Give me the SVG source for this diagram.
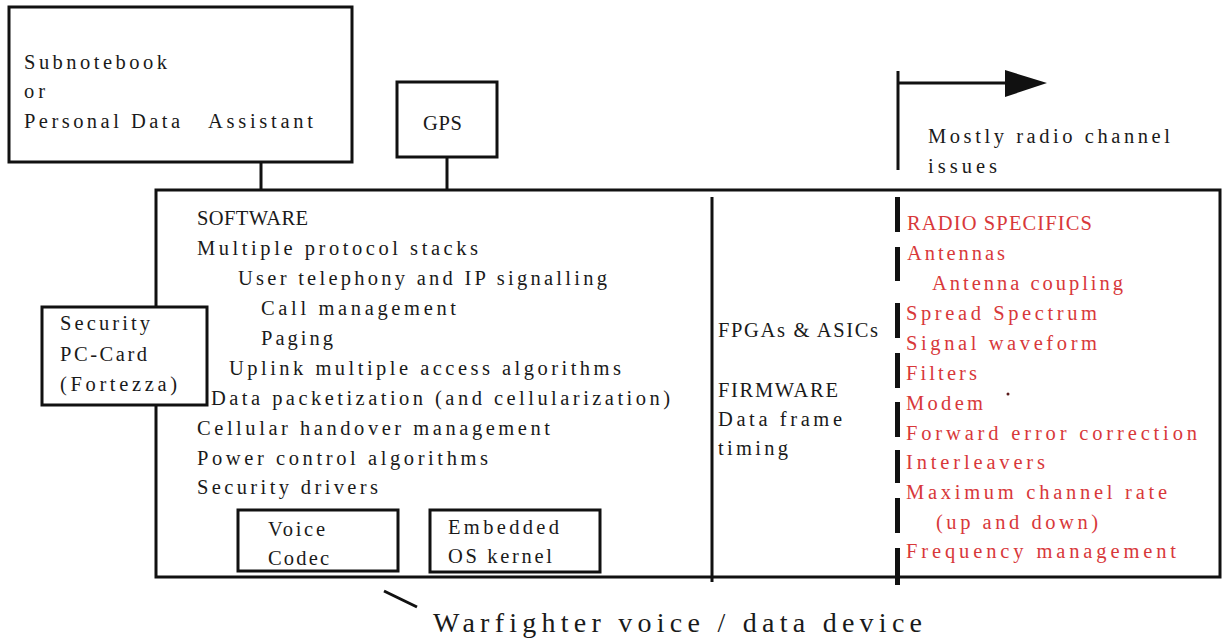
<svg xmlns="http://www.w3.org/2000/svg" width="1223" height="640" viewBox="0 0 1223 640" font-family="'Liberation Serif', 'DejaVu Serif', serif">
<style>
.box{fill:#fff;stroke:#111;stroke-width:3}
.ln{stroke:#111;stroke-width:3;fill:none}
text{font-family:'Liberation Serif','DejaVu Serif',serif}
.t{font-size:20.5px;fill:#1a1a1a}
.r{font-size:20.5px;fill:#d8383a}
.big{font-size:28px;fill:#1a1a1a}
.dash{fill:#111}
</style>
<rect width="1223" height="640" fill="#fff"/>

<g id="connectors">
<line class="ln" x1="261" y1="162" x2="261" y2="190"/>
<line class="ln" x1="447" y1="157" x2="447" y2="190"/>
<line class="ln" x1="384" y1="591" x2="417" y2="607"/>
<line class="ln" x1="898" y1="71" x2="898" y2="170"/>
<line class="ln" x1="898" y1="83" x2="1008" y2="83"/>
<polygon points="1005,70 1047,83 1005,97" fill="#111"/>
</g>

<g id="device">
<rect class="box" x="156" y="190" width="1064" height="387"/>
<line class="ln" x1="712" y1="197" x2="712" y2="582"/>
<text class="t" x="197" y="225" textLength="111" lengthAdjust="spacing">SOFTWARE</text>
<text class="t" x="197" y="255" textLength="281" lengthAdjust="spacing">Multiple protocol stacks</text>
<text class="t" x="238" y="285" textLength="369" lengthAdjust="spacing">User telephony and IP signalling</text>
<text class="t" x="261" y="315" textLength="195" lengthAdjust="spacing">Call management</text>
<text class="t" x="261" y="345" textLength="72" lengthAdjust="spacing">Paging</text>
<text class="t" x="229" y="375" textLength="392" lengthAdjust="spacing">Uplink multiple access algorithms</text>
<text class="t" x="211" y="405" textLength="459" lengthAdjust="spacing">Data packetization (and cellularization)</text>
<text class="t" x="197" y="435" textLength="353" lengthAdjust="spacing">Cellular handover management</text>
<text class="t" x="197" y="465" textLength="291" lengthAdjust="spacing">Power control algorithms</text>
<text class="t" x="197" y="494" textLength="181" lengthAdjust="spacing">Security drivers</text>
<text class="t" x="718" y="337" textLength="160" lengthAdjust="spacing">FPGAs &amp; ASICs</text>
<text class="t" x="718" y="397" textLength="120" lengthAdjust="spacing">FIRMWARE</text>
<text class="t" x="718" y="426" textLength="124" lengthAdjust="spacing">Data frame</text>
<text class="t" x="718" y="455" textLength="70" lengthAdjust="spacing">timing</text>
</g>

<g id="radio-specifics">
<rect class="dash" x="895" y="197" width="5" height="35"/>
<rect class="dash" x="895" y="247" width="5" height="34"/>
<rect class="dash" x="895" y="303" width="5" height="35"/>
<rect class="dash" x="895" y="353" width="5" height="35"/>
<rect class="dash" x="895" y="402" width="5" height="35"/>
<rect class="dash" x="895" y="450" width="5" height="33"/>
<rect class="dash" x="895" y="498" width="5" height="35"/>
<rect class="dash" x="895" y="548" width="5" height="37"/>
<text class="r" x="907" y="230" textLength="185" lengthAdjust="spacing">RADIO SPECIFICS</text>
<text class="r" x="907" y="260" textLength="98" lengthAdjust="spacing">Antennas</text>
<text class="r" x="932" y="290" textLength="191" lengthAdjust="spacing">Antenna coupling</text>
<text class="r" x="906" y="320" textLength="191" lengthAdjust="spacing">Spread Spectrum</text>
<text class="r" x="906" y="350" textLength="191" lengthAdjust="spacing">Signal waveform</text>
<text class="r" x="906" y="380" textLength="71" lengthAdjust="spacing">Filters</text>
<text class="r" x="906" y="410" textLength="77" lengthAdjust="spacing">Modem</text>
<circle cx="1008" cy="394" r="1.5" fill="#5a1a1a"/>
<text class="r" x="906" y="440" textLength="291" lengthAdjust="spacing">Forward error correction</text>
<text class="r" x="906" y="469" textLength="139" lengthAdjust="spacing">Interleavers</text>
<text class="r" x="906" y="499" textLength="261" lengthAdjust="spacing">Maximum channel rate</text>
<text class="r" x="936" y="529" textLength="162" lengthAdjust="spacing">(up and down)</text>
<text class="r" x="906" y="558" textLength="270" lengthAdjust="spacing">Frequency management</text>
</g>

<g id="subnotebook">
<rect class="box" x="9" y="7" width="343" height="155"/>
<text class="t" x="24" y="69" textLength="143" lengthAdjust="spacing">Subnotebook</text>
<text class="t" x="24" y="98" textLength="21" lengthAdjust="spacing">or</text>
<text class="t" x="24" y="128"><tspan textLength="156" lengthAdjust="spacing">Personal Data</tspan><tspan x="208" textLength="105" lengthAdjust="spacing">Assistant</tspan></text>
</g>

<g id="gps">
<rect class="box" x="397" y="82" width="100" height="75"/>
<text class="t" x="423" y="130" textLength="39" lengthAdjust="spacing">GPS</text>
</g>

<g id="security-card">
<rect class="box" x="42" y="307" width="165" height="98"/>
<text class="t" x="60" y="330" textLength="90" lengthAdjust="spacing">Security</text>
<text class="t" x="60" y="361" textLength="87" lengthAdjust="spacing">PC-Card</text>
<text class="t" x="60" y="391" textLength="117" lengthAdjust="spacing">(Fortezza)</text>
</g>

<g id="voice-codec">
<rect class="box" x="238" y="510" width="160" height="61"/>
<text class="t" x="268" y="536" textLength="57" lengthAdjust="spacing">Voice</text>
<text class="t" x="268" y="565" textLength="61" lengthAdjust="spacing">Codec</text>
</g>

<g id="os-kernel">
<rect class="box" x="430" y="510" width="170" height="62"/>
<text class="t" x="448" y="534" textLength="111" lengthAdjust="spacing">Embedded</text>
<text class="t" x="448" y="563" textLength="104" lengthAdjust="spacing">OS kernel</text>
</g>

<g id="labels">
<text class="t" x="928" y="143" textLength="242" lengthAdjust="spacing">Mostly radio channel</text>
<text class="t" x="928" y="173" textLength="69" lengthAdjust="spacing">issues</text>
<text class="big" x="433" y="632" textLength="489" lengthAdjust="spacing">Warfighter voice / data device</text>
</g>
</svg>
